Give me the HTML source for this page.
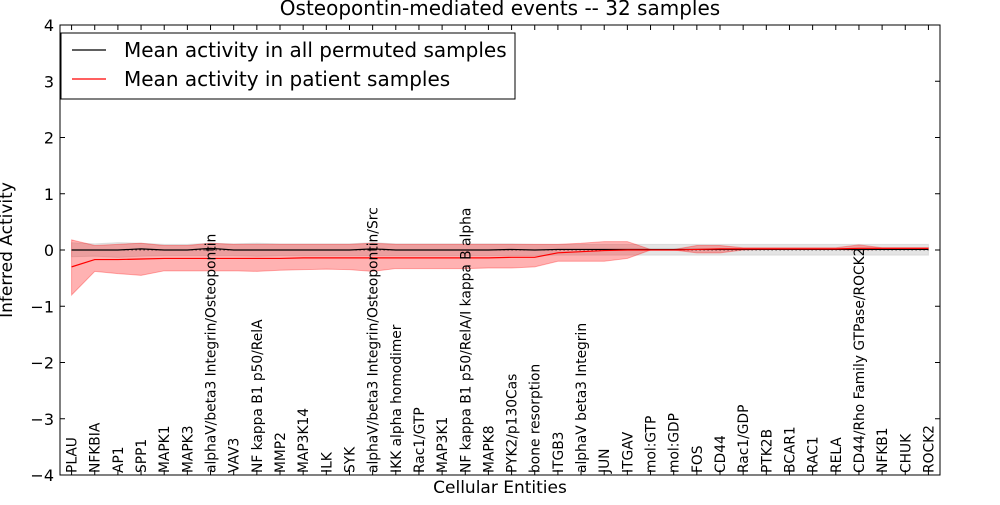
<!DOCTYPE html>
<html><head><meta charset="utf-8"><style>
body{margin:0;background:#fff;}
svg text{font-family:"DejaVu Sans","Liberation Sans",sans-serif;}
</style></head><body>
<svg id="chart" width="1000" height="500" xmlns="http://www.w3.org/2000/svg">
<rect width="1000" height="500" fill="#fff"/>
<text x="500" y="15" text-anchor="middle" font-size="20">Osteopontin-mediated events -- 32 samples</text>
<g id="plot"></g>
</svg>
<script>
const categories=["PLAU","NFKBIA","AP1","SPP1","MAPK1","MAPK3","alphaV/beta3 Integrin/Osteopontin","VAV3","NF kappa B1 p50/RelA","MMP2","MAP3K14","ILK","SYK","alphaV/beta3 Integrin/Osteopontin/Src","IKK alpha homodimer","Rac1/GTP","MAP3K1","NF kappa B1 p50/RelA/I kappa B alpha","MAPK8","PYK2/p130Cas","bone resorption","ITGB3","alphaV beta3 Integrin","JUN","ITGAV","mol:GTP","mol:GDP","FOS","CD44","Rac1/GDP","PTK2B","BCAR1","RAC1","RELA","CD44/Rho Family GTPase/ROCK2","NFKB1","CHUK","ROCK2"];
const patientMean=[-0.3,-0.17,-0.17,-0.16,-0.15,-0.15,-0.15,-0.15,-0.15,-0.15,-0.14,-0.14,-0.14,-0.14,-0.14,-0.14,-0.14,-0.14,-0.14,-0.13,-0.13,-0.05,-0.03,-0.01,0,0,0,0.01,0.02,0.02,0.02,0.02,0.02,0.02,0.03,0.03,0.03,0.03];
const patientUpper=[0.18,0.08,0.1,0.12,0.08,0.08,0.12,0.1,0.1,0.1,0.1,0.1,0.1,0.12,0.1,0.1,0.1,0.1,0.1,0.1,0.1,0.1,0.12,0.15,0.15,0.01,0.01,0.08,0.08,0.04,0.04,0.04,0.04,0.04,0.09,0.04,0.04,0.04];
const patientLower=[-0.8,-0.38,-0.42,-0.45,-0.37,-0.37,-0.37,-0.37,-0.38,-0.36,-0.35,-0.34,-0.35,-0.38,-0.33,-0.33,-0.33,-0.33,-0.32,-0.32,-0.3,-0.2,-0.2,-0.2,-0.15,0,0,-0.05,-0.05,0,0.01,0.01,0.01,0.01,0,0.01,0.01,0.01];
const permMean=[0,0,0,0.02,0,0,0.03,0,0,0,0,0,0,0.02,0,0,0,0,0,0.01,0,0.01,0.01,0.01,0.01,0.01,0.01,0.01,0.01,0.01,0.01,0.01,0.01,0.01,0.01,0.01,0.01,0.01];
const permUpper=[0.13,0.11,0.13,0.12,0.1,0.1,0.12,0.11,0.12,0.11,0.11,0.11,0.11,0.13,0.11,0.11,0.11,0.11,0.11,0.11,0.1,0.1,0.1,0.1,0.1,0.1,0.1,0.1,0.1,0.1,0.1,0.1,0.1,0.1,0.1,0.1,0.1,0.1];
const permLower=[-0.12,-0.11,-0.13,-0.11,-0.1,-0.1,-0.1,-0.1,-0.11,-0.1,-0.1,-0.1,-0.1,-0.1,-0.1,-0.1,-0.1,-0.1,-0.1,-0.1,-0.1,-0.09,-0.09,-0.09,-0.09,-0.09,-0.09,-0.09,-0.09,-0.09,-0.09,-0.09,-0.09,-0.09,-0.09,-0.09,-0.09,-0.09];
const yTicks=[-4,-3,-2,-1,0,1,2,3,4];

const L=60,R=940,T=25,B=475,NS="http://www.w3.org/2000/svg";
const n=categories.length;
const xs=i=>L+(R-L)*(i+0.5)/n;
const ys=v=>T+(4-v)/8*(B-T);
const g=document.getElementById('plot');
function mk(tag,attrs,parent){const e=document.createElementNS(NS,tag);for(const k in attrs)e.setAttribute(k,attrs[k]);(parent||g).appendChild(e);return e;}
function band(up,lo,fill,op,name){
  let d='M'+up.map((v,i)=>xs(i)+','+ys(v)).join('L')+'L'+lo.map((v,i)=>[xs(i),ys(v)]).reverse().map(p=>p.join(',')).join('L')+'Z';
  const e=mk('path',{d:d,fill:fill,'fill-opacity':op,stroke:fill,'stroke-opacity':op});
  
  
}
function line(vals,col,name){
  const e=mk('polyline',{points:vals.map((v,i)=>xs(i)+','+ys(v)).join(' '),fill:'none',stroke:col,'stroke-width':1.2});
  
  
}
band(permUpper,permLower,'#bbbbbb',0.4,'permuted-band');
band(patientUpper,patientLower,'#ff0000',0.3,'patient-band');
const z=mk('line',{x1:xs(0),x2:xs(n-1),y1:ys(0),y2:ys(0),stroke:'#000','stroke-dasharray':'1,3'});


line(permMean,'#000','permuted-mean-line');
line(patientMean,'#ff0000','patient-mean-line');
const fr=mk('rect',{x:L,y:T,width:R-L,height:B-T,fill:'none',stroke:'#000'});


yTicks.forEach(t=>{
  const y=ys(t);
  mk('line',{x1:L,x2:L+5,y1:y,y2:y,stroke:'#000'});
  mk('line',{x1:R,x2:R-5,y1:y,y2:y,stroke:'#000'});
  const tx=mk('text',{x:L-6,y:y+6,'text-anchor':'end','font-size':16});
  tx.textContent=(t<0?'\u2212'+(-t):t);
  
  
});
categories.forEach((c,i)=>{
  const x=xs(i);
  mk('line',{x1:x,x2:x,y1:B,y2:B-5,stroke:'#000'});
  mk('line',{x1:x,x2:x,y1:T,y2:T+5,stroke:'#000'});
  const tx=mk('text',{x:0,y:0,'font-size':13.8,transform:`translate(${x+5},${B-2}) rotate(-90)`});
  tx.textContent=c;
  
  
});
const xt=mk('text',{x:500,y:493,'text-anchor':'middle','font-size':17});
xt.textContent='Cellular Entities';


const yt=mk('text',{x:0,y:0,'text-anchor':'middle','font-size':17,transform:'translate(12,250) rotate(-90)'});
yt.textContent='Inferred Activity';


const lg=mk('g',{});


mk('rect',{x:61,y:33,width:454,height:66,fill:'#fff',stroke:'#000'},lg);
[['Mean activity in all permuted samples','#000',50],['Mean activity in patient samples','#ff0000',79]].forEach(([t,c,y])=>{
  const en=mk('g',{},lg);
  
  
  mk('line',{x1:72,x2:106,y1:y,y2:y,stroke:c,'stroke-width':1.2},en);
  const tx=mk('text',{x:124,y:y+7,'font-size':20},en);
  tx.textContent=t;
});
</script>
</body></html>
